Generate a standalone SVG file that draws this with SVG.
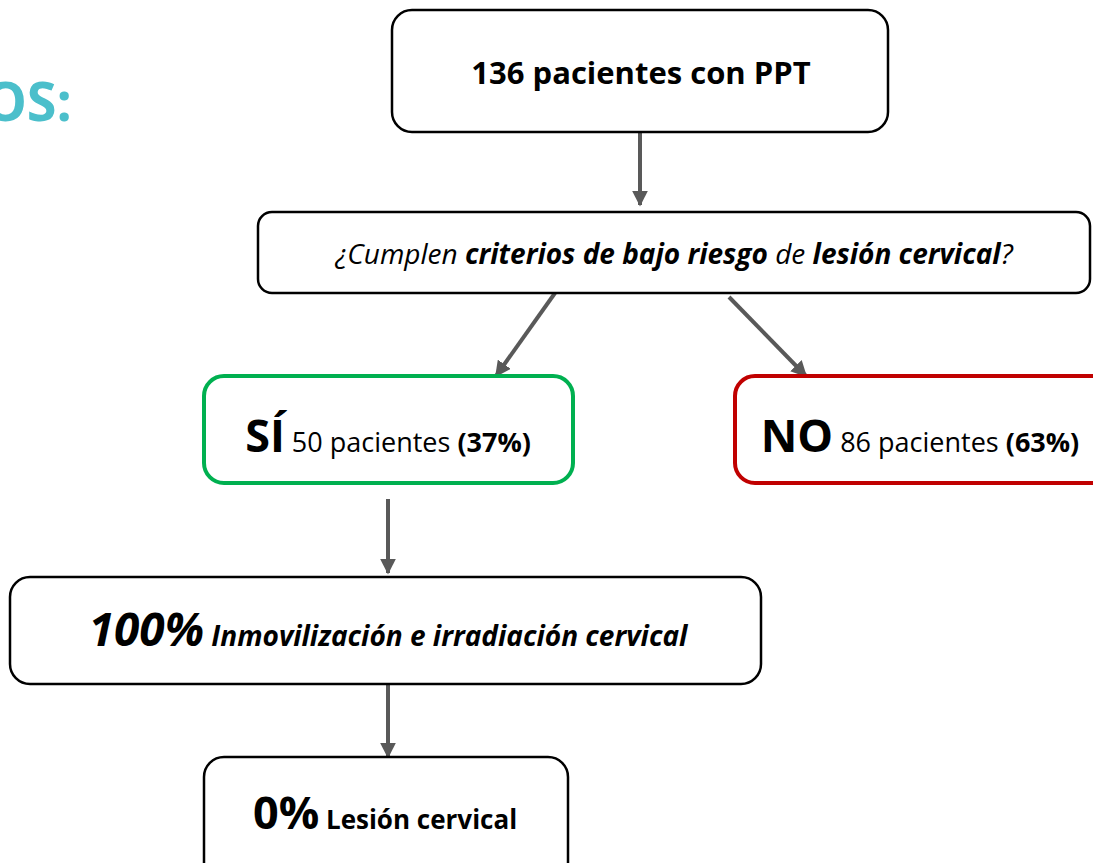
<svg xmlns="http://www.w3.org/2000/svg" width="1093" height="863" viewBox="0 0 1093 863">
<defs>
<style>
.box{fill:#fff;stroke:#000;stroke-width:2.5}
.t{font-family:"Open Sans","Liberation Sans",sans-serif;fill:#000}
.b{font-weight:700}
.i{font-style:italic}
.con{stroke:#595959;stroke-width:4;fill:none}
</style>
<marker id="ah" viewBox="0 0 10 10" refX="9" refY="5" markerWidth="4" markerHeight="4" orient="auto" markerUnits="strokeWidth">
<path d="M0,0 L10,5 L0,10 z" fill="#595959"/>
</marker>
</defs>
<rect width="1093" height="863" fill="#fff"/>
<text class="t b" x="72" y="121" text-anchor="end" font-size="54" style="fill:#4BBFCB">OS:</text>
<g id="connectors">
<line class="con" x1="640" y1="132" x2="640" y2="205" marker-end="url(#ah)"/>
<line class="con" x1="555" y1="293" x2="496" y2="376" marker-end="url(#ah)"/>
<line class="con" x1="729" y1="297" x2="806" y2="376" marker-end="url(#ah)"/>
<line class="con" x1="388" y1="499" x2="388" y2="573" marker-end="url(#ah)"/>
<line class="con" x1="388" y1="684" x2="388" y2="757" marker-end="url(#ah)"/>
</g>
<g id="n1">
<rect class="box" x="392" y="10" width="496" height="122" rx="20"/>
<text class="t b" x="641" y="84" text-anchor="middle" font-size="31">136 pacientes con PPT</text>
</g>
<g id="n2">
<rect class="box" x="258" y="212" width="832" height="81" rx="14"/>
<text class="t i" x="674" y="264" text-anchor="middle" font-size="28">¿Cumplen <tspan class="b">criterios de bajo riesgo</tspan> de <tspan class="b">lesión cervical</tspan>?</text>
</g>
<g id="n3">
<rect x="204" y="376" width="369" height="107" rx="20" fill="#fff" stroke="#00B050" stroke-width="4"/>
<text class="t" x="388" y="452" text-anchor="middle" font-size="27"><tspan class="b" font-size="45">SÍ</tspan> 50 pacientes <tspan class="b">(37%)</tspan></text>
</g>
<g id="n4">
<rect x="735" y="376" width="380" height="107" rx="20" fill="#fff" stroke="#C00000" stroke-width="4"/>
<text class="t" x="920" y="452" text-anchor="middle" font-size="27"><tspan class="b" font-size="45">NO</tspan> 86 pacientes <tspan class="b">(63%)</tspan></text>
</g>
<g id="n5">
<rect class="box" x="10" y="577" width="751" height="107" rx="20"/>
<text class="t b i" x="388" y="646" text-anchor="middle" font-size="28"><tspan font-size="46">100%</tspan> Inmovilización e irradiación cervical</text>
</g>
<g id="n6">
<rect class="box" x="204" y="757" width="364" height="130" rx="20"/>
<text class="t b" x="385" y="829" text-anchor="middle" font-size="26"><tspan font-size="45">0%</tspan> Lesión cervical</text>
</g>
</svg>
